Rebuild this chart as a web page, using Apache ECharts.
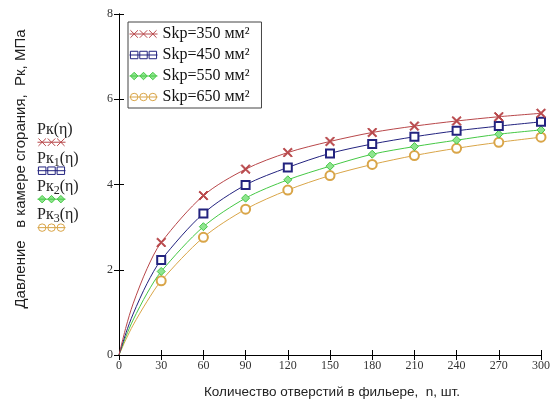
<!DOCTYPE html>
<html><head><meta charset="utf-8">
<script src="https://cdn.jsdelivr.net/npm/echarts@6/dist/echarts.min.js"></script>
<style>html,body{margin:0;padding:0;background:#fff}#c{width:553px;height:404px}</style>
</head><body><div id="c"></div>
<script>
// Number of holes n (x), pressure Pk MPa (y)
var nValues = [0, 5, 10, 20, 30, 60, 90, 120, 150, 180, 210, 240, 270, 300];
var pk350 = [0, 0.66, 1.20, 2.03, 2.64, 3.74, 4.36, 4.75, 5.01, 5.22, 5.37, 5.49, 5.59, 5.67];
var pk450 = [0, 0.52, 0.96, 1.68, 2.23, 3.32, 3.99, 4.40, 4.73, 4.95, 5.12, 5.26, 5.37, 5.47];
var pk550 = [0, 0.44, 0.82, 1.45, 1.96, 3.01, 3.68, 4.11, 4.43, 4.71, 4.89, 5.04, 5.18, 5.28];
var pk650 = [0, 0.37, 0.70, 1.26, 1.74, 2.76, 3.42, 3.87, 4.21, 4.47, 4.68, 4.85, 4.99, 5.11];
var seriesNames = ['Skp=350 мм²', 'Skp=450 мм²', 'Skp=550 мм²', 'Skp=650 мм²'];
var xTicks = [0, 30, 60, 90, 120, 150, 180, 210, 240, 270, 300];
var yTicks = [0, 2, 4, 6, 8];

var colors = ['#b8474a', '#23237f', '#45c845', '#d9a548'];
var crossPath = 'path://M0,1L1,0L5,4L9,0L10,1L6,5L10,9L9,10L5,6L1,10L0,9L4,5Z';
var symbols = [crossPath, 'emptyRect', 'diamond', 'emptyCircle'];
var symSizes = [9, 8, 8, 9];
var iconPaths = [
  'path://M0,5L30,5M1,1L9,9M9,1L1,9M11,1L19,9M19,1L11,9M21,1L29,9M29,1L21,9',
  'path://M0,5L30,5M1,1L9,1L9,9L1,9ZM11,1L19,1L19,9L11,9ZM21,1L29,1L29,9L21,9Z',
  'path://M0,5L30,5M5,1L9,5L5,9L1,5ZM15,1L19,5L15,9L11,5ZM25,1L29,5L25,9L21,5Z',
  'path://M0,5L30,5M1,5A4,4 0 1 1 9,5A4,4 0 1 1 1,5ZM11,5A4,4 0 1 1 19,5A4,4 0 1 1 11,5ZM21,5A4,4 0 1 1 29,5A4,4 0 1 1 21,5Z'
];
var allData = [pk350, pk450, pk550, pk650];

function buildData(vals) {
  return nValues.map(function (n, i) {
    var item = { value: [n, vals[i]] };
    if (n === 0 || n % 30 !== 0) item.symbol = 'none';
    return item;
  });
}

var series = allData.map(function (vals, k) {
  return {
    name: seriesNames[k], type: 'line', smooth: 0.3,
    data: buildData(vals), xAxisIndex: 0, yAxisIndex: 0,
    symbol: symbols[k], symbolSize: symSizes[k], showAllSymbol: true,
    lineStyle: { color: colors[k], width: 1 },
    itemStyle: k === 2 ? { color: '#8fe58f', borderColor: colors[k], borderWidth: 1 }
                       : { color: colors[k], borderColor: colors[k], borderWidth: 1 },
    emphasis: { disabled: true }, z: 5 - k
  };
});

function legendItems() {
  return seriesNames.map(function (nm, k) {
    return { name: nm, icon: iconPaths[k],
      itemStyle: { color: k === 2 ? '#8fe58f' : 'transparent', borderColor: colors[k], borderWidth: 1 } };
  });
}

var serif = '"Liberation Serif", "DejaVu Serif", serif';
var sans = '"Liberation Sans", Arial, sans-serif';
var richSub = { a: { fontFamily: serif, fontSize: 16, fill: '#222' }, s: { fontFamily: serif, fontSize: 12, fill: '#222', padding: [7, 0, 0, 0] } };

var option = {
  animation: false,
  backgroundColor: '#fff',
  grid: { left: 119, top: 14, right: 10, bottom: 49, containLabel: false },
  xAxis: [{
    type: 'value', min: 0, max: 300, interval: 30,
    axisLine: { lineStyle: { color: '#000', width: 1 } },
    axisTick: { inside: true, length: 5, lineStyle: { color: '#000' } },
    axisLabel: { fontFamily: serif, fontSize: 12, color: '#333', margin: 5,
      formatter: function (v) { return xTicks.indexOf(v) >= 0 ? String(v) : ''; } },
    splitLine: { show: false }
  }, {
    type: 'value', position: 'top', min: 0, max: 300, interval: 30,
    axisLine: { lineStyle: { color: '#000', width: 1 } },
    axisTick: { inside: true, length: 5, lineStyle: { color: '#000' } },
    axisLabel: { show: false }, splitLine: { show: false }
  }],
  yAxis: [{
    type: 'value', min: 0, max: 8, interval: 2,
    axisLine: { show: true, lineStyle: { color: '#000', width: 1 } },
    axisTick: { show: true, inside: true, length: 5, lineStyle: { color: '#000' } },
    axisLabel: { fontFamily: serif, fontSize: 12, color: '#333', margin: 6, padding: [0, 0, 6, 0],
      formatter: function (v) { return yTicks.indexOf(v) >= 0 ? String(v) : ''; } },
    splitLine: { show: false }
  }, {
    type: 'value', position: 'right', min: 0, max: 8, interval: 2,
    axisLine: { show: true, lineStyle: { color: '#000', width: 1 } },
    axisTick: { show: true, inside: true, length: 5, lineStyle: { color: '#000' } },
    axisLabel: { show: false }, splitLine: { show: false }
  }],
  legend: [{
    orient: 'vertical', left: 128, top: 22,
    padding: [4, 12, 3, 1], itemGap: 5, itemWidth: 28, itemHeight: 9,
    backgroundColor: '#fff', borderColor: '#444', borderWidth: 1,
    selectedMode: false,
    textStyle: { fontFamily: serif, fontSize: 16, color: '#111', lineHeight: 16 },
    data: legendItems()
  }, {
    orient: 'vertical', left: 37, top: 138,
    padding: 0, itemGap: 20, itemWidth: 28, itemHeight: 8,
    selectedMode: false,
    formatter: function () { return ''; },
    textStyle: { fontSize: 8, lineHeight: 8 },
    data: legendItems()
  }],
  graphic: [
    { type: 'text', x: 37, y: 130, style: { rich: richSub, text: '{a|Pк(η)}', verticalAlign: 'middle' } },
    { type: 'text', x: 37, y: 159, style: { rich: richSub, text: '{a|Pк}{s|1}{a|(η)}', verticalAlign: 'middle' } },
    { type: 'text', x: 37, y: 187, style: { rich: richSub, text: '{a|Pк}{s|2}{a|(η)}', verticalAlign: 'middle' } },
    { type: 'text', x: 37, y: 215, style: { rich: richSub, text: '{a|Pк}{s|3}{a|(η)}', verticalAlign: 'middle' } },
    { type: 'text', x: 21, y: 169, rotation: Math.PI / 2,
      style: { text: 'Давление   в камере сгорания,  Pк, МПа', fontFamily: sans, fontSize: 15, fill: '#222', align: 'center', verticalAlign: 'middle' } },
    { type: 'text', x: 332, y: 392,
      style: { text: 'Количество отверстий в фильере,  n, шт.', fontFamily: sans, fontSize: 13.5, fill: '#222', align: 'center', verticalAlign: 'middle' } }
  ],
  series: series
};

var chart = echarts.init(document.getElementById('c'), null, { renderer: 'canvas' });
chart.setOption(option);
</script>
</body></html>
